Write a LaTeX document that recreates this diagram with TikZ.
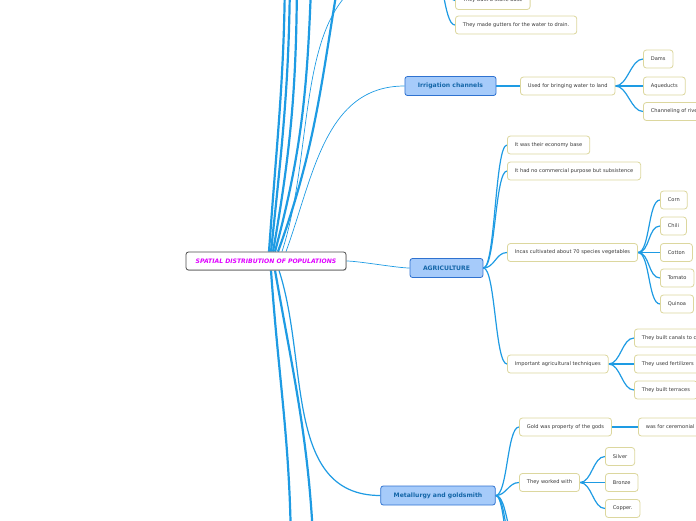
\documentclass[tikz,border=0pt]{standalone}
\usepackage{fontspec}
\setmainfont{DejaVu Sans}
\usetikzlibrary{shadows}
\pgfdeclarelayer{background}
\pgfsetlayers{background,main}

\definecolor{linkblue}{HTML}{1E9BE3}
\definecolor{topicfill}{HTML}{A6CBFA}
\definecolor{topicdraw}{HTML}{2F72D0}
\definecolor{topictext}{HTML}{1466A8}
\definecolor{leafdraw}{HTML}{DCD79E}
\definecolor{leaftext}{HTML}{383838}
\definecolor{rootpink}{HTML}{E000FF}

\tikzset{
  root/.style={draw=black!70, fill=white, rounded corners=2.5pt, line width=0.8pt,
    minimum width=160pt, minimum height=18pt, text=rootpink,
    drop shadow={shadow xshift=0.5pt, shadow yshift=-0.8pt, fill=black!45},
    font=\fontsize{6.1}{7}\selectfont\bfseries\itshape},
  topic/.style={draw=topicdraw, fill=topicfill, rounded corners=2.5pt, line width=0.8pt,
    minimum height=19pt, inner xsep=13pt, text=topictext,
    font=\fontsize{6.1}{7}\selectfont\bfseries},
  leaf/.style={draw=leafdraw, fill=white, rounded corners=3pt, line width=0.8pt,
    minimum height=18pt, inner xsep=7.5pt, text=leaftext, anchor=west,
    font=\fontsize{5.1}{6}\selectfont},
  link/.style={draw=linkblue, line width=1.2pt},
  thinlink/.style={draw=linkblue, line width=0.7pt},
  heavy/.style={draw=linkblue, line width=2.2pt},
  sbend/.style={out=0, in=180, max distance=12pt}
}

\begin{document}
\begin{tikzpicture}[x=1pt,y=1pt]
\useasboundingbox (0,0) rectangle (696,-520);

\node[root] (root) at (266,-261) {SPATIAL DISTRIBUTION OF POPULATIONS};

% topics that lie outside the picture
\coordinate (up1) at (285,40);
\coordinate (up2) at (290,40);
\coordinate (up3) at (297,40);
\coordinate (up4) at (312,40);
\coordinate (up5) at (342,40);
\coordinate (urban) at (410,30);
\coordinate (drain) at (431,40);
\coordinate (down1) at (291,-560);
\coordinate (down2) at (314,-560);
\coordinate (met3) at (519,-545);
\coordinate (met4) at (519,-575);
\coordinate (met5) at (519,-610);

\node[leaf] (stone) at (455,-0.5) {They built a stone base};
\node[leaf] (gutter) at (455,-25) {They made gutters for the water to drain.};

% irrigation
\node[topic] (irr) at (450.5,-86) {Irrigation channels};
\node[leaf] (use) at (520,-86) {Used for bringing water to land};
\node[leaf] (dams) at (643,-59) {Dams};
\node[leaf] (aque) at (643,-86) {Aqueducts};
\node[leaf] (chan) at (643,-111.5) {Channeling of rivers};

% agriculture
\node[topic] (agr) at (446.5,-268) {AGRICULTURE};
\node[leaf] (eco) at (507,-145) {It was their economy base};
\node[leaf] (subs) at (507,-171) {It had no commercial purpose but subsistence};
\node[leaf] (veg) at (507,-252.5) {Incas cultivated about 70 species vegetables};
\node[leaf] (corn) at (660,-200) {Corn};
\node[leaf] (chili) at (660,-226) {Chili};
\node[leaf] (cotton) at (660,-252.5) {Cotton};
\node[leaf] (tomato) at (660,-278) {Tomato};
\node[leaf] (quinoa) at (660,-304) {Quinoa};
\node[leaf] (tech) at (507,-364) {Important agricultural techniques};
\node[leaf] (canal) at (634,-338) {They built canals to carry water};
\node[leaf] (fert) at (634,-364) {They used fertilizers};
\node[leaf] (terr) at (634,-390) {They built terraces};

% metallurgy
\node[topic] (met) at (438,-495.5) {Metallurgy and goldsmith};
\node[leaf] (gold) at (519,-427) {Gold was property of the gods};
\node[leaf] (cere) at (638,-427) {was for ceremonial use};
\node[leaf] (work) at (519,-482.5) {They worked with};
\node[leaf] (silver) at (605,-456.5) {Silver};
\node[leaf] (bronze) at (605,-482.5) {Bronze};
\node[leaf] (copper) at (605,-508.5) {Copper.};

\begin{pgfonlayer}{background}
% from the root
\draw[heavy] ([xshift=3pt]root.north) to[out=86,in=-90] (up1);
\draw[heavy] ([xshift=5pt]root.north) to[out=84,in=-90] (up2);
\draw[heavy] ([xshift=7pt]root.north) to[out=80,in=-90] (up3);
\draw[heavy] ([xshift=9pt]root.north) to[out=75,in=-92] (up4);
\draw[heavy] ([xshift=12pt]root.north) to[out=70,in=-100] (up5);
\draw[thinlink] ([xshift=16pt]root.north) to[out=72,in=180] (urban);
\draw[thinlink] ([xshift=20pt]root.north) to[out=70,in=180] (irr.west);
\draw[heavy] ([xshift=5pt]root.south) to[out=-86,in=90] (down1);
\draw[heavy] ([xshift=9pt]root.south) to[out=-80,in=92] (down2);
\draw[link] ([xshift=13pt]root.south) to[out=-72,in=180] (met.west);
\draw[thinlink] (root.east) to[sbend] (agr.west);

% water outside the picture
\draw[link] (drain) to[sbend] (stone.west);
\draw[link] (drain) to[sbend] (gutter.west);

% irrigation
\draw[link] (irr.east) -- (use.west);
\foreach \c in {dams,aque,chan}
  \draw[link] (use.east) to[sbend] (\c.west);

% agriculture
\foreach \c in {eco,subs,veg,tech}
  \draw[link] (agr.east) to[sbend] (\c.west);
\foreach \c in {corn,chili,cotton,tomato,quinoa}
  \draw[link] (veg.east) to[sbend] (\c.west);
\foreach \c in {canal,fert,terr}
  \draw[link] (tech.east) to[sbend] (\c.west);

% metallurgy
\foreach \c in {gold,work,met3,met4,met5}
  \draw[link] (met.east) to[sbend] (\c);
\draw[link] (gold.east) -- (cere.west);
\foreach \c in {silver,bronze,copper}
  \draw[link] (work.east) to[sbend] (\c.west);
\end{pgfonlayer}

\end{tikzpicture}
\end{document}
